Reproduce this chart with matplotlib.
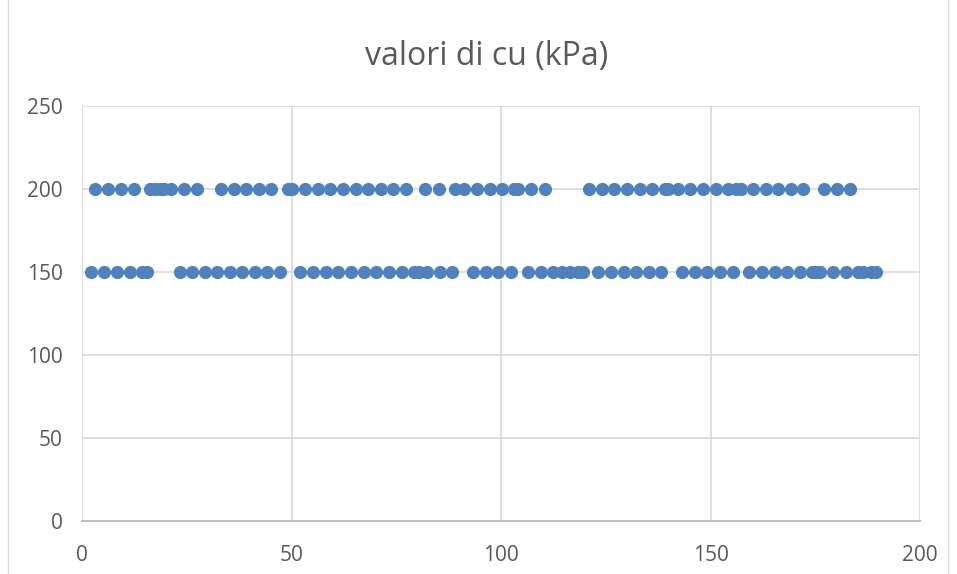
import matplotlib
matplotlib.use("Agg")
import matplotlib.pyplot as plt
from matplotlib.lines import Line2D

x_200 = [3.1, 6.2, 9.3, 12.4, 16.2, 17.4, 18.6, 19.6, 21.2, 24.3, 27.4, 33.2, 36.3, 39.1, 42.2,
         45.1, 49.2, 50.1, 53.2, 56.3, 59.2, 62.3, 65.4, 68.3, 71.4, 74.2, 77.3, 81.9, 85.2,
         89.0, 91.2, 94.3, 97.4, 100.2, 103.1, 104.1, 107.2, 110.5, 121.0, 124.1, 127.0, 130.1,
         133.2, 136.0, 139.1, 139.9, 142.2, 145.1, 148.2, 151.3, 154.2, 156.1, 157.3, 160.1,
         163.2, 166.1, 169.2, 172.1, 177.1, 180.2, 183.3]
y_200 = [200] * len(x_200)

x_150 = [2.1, 5.3, 8.4, 11.5, 14.3, 15.5, 23.4, 26.3, 29.4, 32.2, 35.3, 38.2, 41.3, 44.2, 47.3,
         52.0, 55.1, 58.2, 61.1, 64.2, 67.3, 70.2, 73.3, 76.4, 79.2, 80.4, 82.3, 85.4, 88.3,
         93.3, 96.4, 99.3, 102.4, 106.4, 109.5, 112.4, 114.6, 116.5, 118.4, 119.6, 123.2, 126.3,
         129.4, 132.2, 135.3, 138.2, 143.2, 146.3, 149.2, 152.3, 155.4, 159.2, 162.3, 165.4,
         168.3, 171.4, 174.2, 175.2, 176.1, 179.2, 182.3, 185.2, 186.4, 188.3, 189.5]
y_150 = [150] * len(x_150)

title = "valori di cu (kPa)"
x_ticks = [0, 50, 100, 150, 200]
y_ticks = [0, 50, 100, 150, 200, 250]

plt.rcParams['font.family'] = ['Open Sans', 'DejaVu Sans']

fig = plt.figure(figsize=(9.57, 5.74), dpi=100)
ax = fig.add_axes([82/957, 1-521/574, (920-82)/957, (521-106)/574])

color = '#4F81BD'
ax.plot(x_200 + x_150, y_200 + y_150, linestyle='none', marker='o', markersize=9.5,
        color=color, markeredgewidth=0, zorder=3, clip_on=False)

ax.set_xlim(0, 200)
ax.set_ylim(0, 250)
ax.set_xticks(x_ticks)
ax.set_yticks(y_ticks)
ax.grid(True, color='#D9D9D9', linewidth=1.2, zorder=0)
for name, s in ax.spines.items():
    s.set_visible(name == 'bottom')
ax.spines['bottom'].set_color('#BFBFBF')
ax.spines['bottom'].set_linewidth(1.4)
ax.tick_params(length=0, labelsize=15, labelcolor='#595959')
ax.tick_params(axis='x', pad=17)
ax.tick_params(axis='y', pad=14)

fig.text(487/957, 1-57/574, title, ha='center', va='center', fontsize=23, color='#595959')

fig.add_artist(Line2D([8/957, 8/957], [0, 1], transform=fig.transFigure, color='#D9D9D9', lw=1))
fig.add_artist(Line2D([948/957, 948/957], [0, 1], transform=fig.transFigure, color='#D9D9D9', lw=1))

fig.savefig("out.png", dpi=100)
